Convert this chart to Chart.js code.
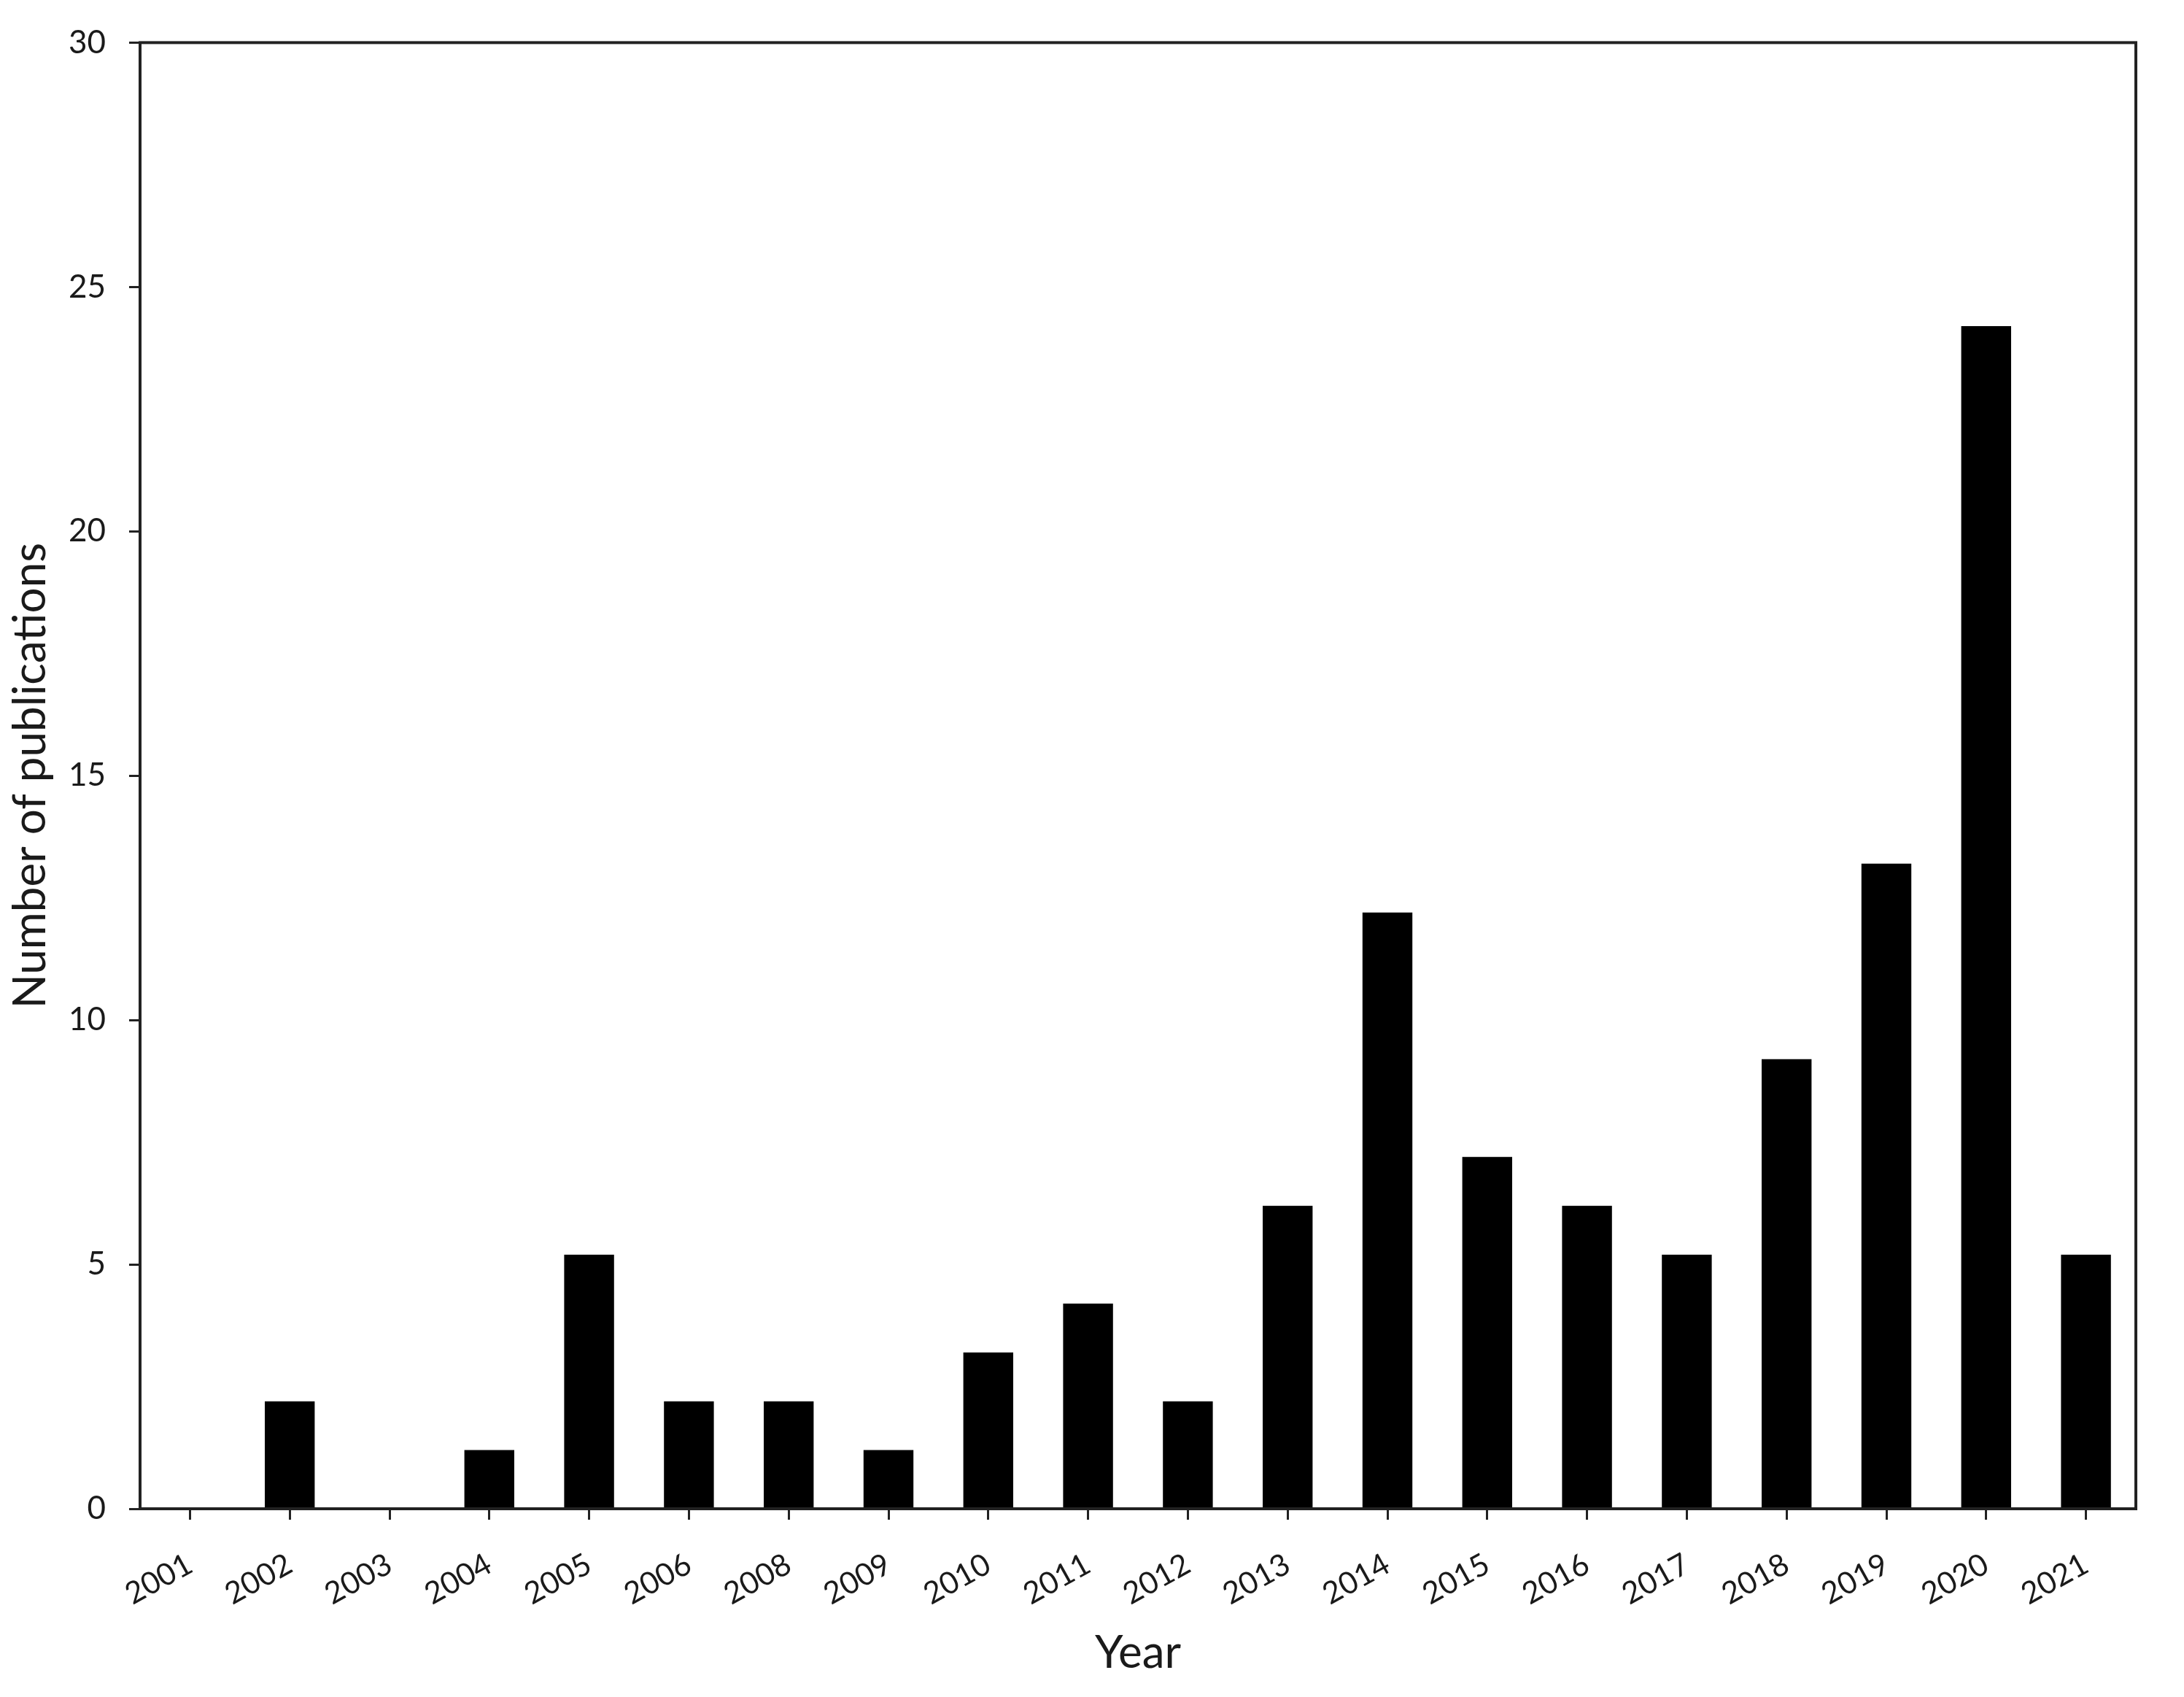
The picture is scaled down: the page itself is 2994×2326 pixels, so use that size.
<!DOCTYPE html>
<html>
<head>
<meta charset="utf-8">
<script src="https://cdn.jsdelivr.net/npm/chart.js@4/dist/chart.umd.min.js"></script>
<style>
  html, body { margin: 0; padding: 0; background: #fff; }
  #wrap { width: 2994px; height: 2326px; }
</style>
</head>
<body>
<div id="wrap"><canvas id="grafica"></canvas></div>
<script>
// years on the x axis (2007 is not in the figure)
const years = ["2001", "2002", "2003", "2004", "2005", "2006", "2008", "2009", "2010", "2011",
  "2012", "2013", "2014", "2015", "2016", "2017", "2018", "2019", "2020", "2021"];
// bar heights
const publications = [0, 2.2, 0, 1.2, 5.2, 2.2, 2.2, 1.2, 3.2, 4.2,
  2.2, 6.2, 12.2, 7.2, 6.2, 5.2, 9.2, 13.2, 24.2, 5.2];
const yTicks = [0, 5, 10, 15, 20, 25, 30];

const fuente = "Lato, 'Open Sans', sans-serif";
const tinta = "#1a1a1a";

// box round the plot area
const marco = {
  id: "marco",
  afterDatasetsDraw(chart) {
    const a = chart.chartArea;
    const ctx = chart.ctx;
    ctx.save();
    ctx.strokeStyle = "#222";
    ctx.lineWidth = 4;
    ctx.strokeRect(a.left, a.top, a.right - a.left, a.bottom - a.top);
    ctx.restore();
  }
};

new Chart("grafica", {
  type: "bar",
  data: {
    labels: years,
    datasets: [
      {
        data: publications,
        backgroundColor: "#000",
        borderWidth: 0,
        categoryPercentage: 1,
        barPercentage: 0.5
      }
    ]
  },
  options: {
    responsive: true,
    maintainAspectRatio: false,
    animation: false,
    layout: { padding: { top: 50, right: 66, left: 0, bottom: 0 } },
    plugins: {
      legend: { display: false },
      tooltip: { enabled: false }
    },
    scales: {
      x: {
        afterFit(scale) { scale.height = 258; },
        border: { display: false },
        grid: {
          offset: false,
          drawOnChartArea: false,
          drawTicks: true,
          tickLength: 15,
          tickWidth: 3,
          tickColor: "#222"
        },
        ticks: {
          color: tinta,
          font: { family: fuente, size: 42 },
          minRotation: 29,
          maxRotation: 29,
          padding: 36,
          autoSkip: false
        },
        title: {
          display: true,
          text: "Year",
          color: tinta,
          font: { family: fuente, size: 62 },
          padding: { top: 0, bottom: 23 }
        }
      },
      y: {
        min: 0,
        max: 30,
        afterFit(scale) { scale.width = 192; },
        afterBuildTicks(scale) { scale.ticks = yTicks.map(v => ({ value: v })); },
        border: { display: false },
        grid: {
          drawOnChartArea: false,
          drawTicks: true,
          tickLength: 15,
          tickWidth: 3,
          tickColor: "#222"
        },
        ticks: {
          color: tinta,
          font: { family: fuente, size: 44 },
          padding: 32
        },
        title: {
          display: true,
          text: "Number of publications",
          color: tinta,
          font: { family: fuente, size: 62 },
          padding: { top: 5, bottom: 0 }
        }
      }
    }
  },
  plugins: [marco]
});
</script>
</body>
</html>
